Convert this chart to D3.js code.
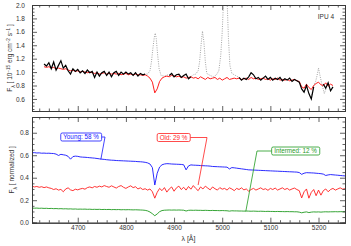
<!DOCTYPE html>
<html><head><meta charset="utf-8">
<script src="https://cdn.jsdelivr.net/npm/d3@7"></script>
<style>
body{margin:0;background:#fff}
svg{display:block}
text{font-family:"Liberation Sans",Arial,sans-serif}
</style>
</head><body>
<svg id="c" width="351" height="246"></svg>
<script>
// ---------------- DATA ----------------
const obsStart = 4630, obsStep = 5;   // top panel wavelength grid (Å)
const obsFlux = [
1.12,1.09,1.14,1.05,1.15,1.03,1.10,1.17,1.06,1.10,
1.02,0.97,1.05,1.01,1.04,0.99,1.02,0.98,1.03,0.99,
1.01,0.92,1.00,0.94,0.99,1.01,0.95,1.00,0.93,0.99,
1.01,0.95,1.00,0.97,1.00,0.97,0.99,0.95,0.99,0.94,
0.98,0.96,0.97,null,null,null,null,null,null,null,
null,null,0.95,0.98,0.93,0.96,0.97,0.92,0.95,0.97,
0.90,0.93,null,null,null,null,null,null,null,null,
null,null,null,null,null,null,null,null,null,null,
null,0.92,0.88,0.91,0.89,0.93,0.99,0.96,0.90,0.92,
0.88,0.91,0.94,0.89,0.92,0.88,0.91,0.89,0.92,0.87,
0.90,0.88,0.91,0.86,0.89,0.87,0.85,0.75,0.70,0.80,
0.68,0.60,0.78,null,null,null,0.82,0.76,0.84,0.72,
0.78];
const modelFlux = [
1.08,1.07,1.08,1.06,1.07,1.05,1.06,1.05,1.04,1.05,
1.03,1.02,1.03,1.01,1.02,1.00,1.01,1.00,0.99,1.00,
0.99,0.98,0.99,0.97,0.98,0.99,0.97,0.98,0.97,0.98,
0.97,0.98,0.96,0.97,0.98,0.96,0.97,0.96,0.97,0.96,
0.96,0.95,0.96,0.94,0.91,0.85,0.69,0.75,0.86,0.91,
0.93,0.94,0.93,0.95,0.94,0.93,0.94,0.92,0.93,0.91,
0.92,0.93,0.91,0.92,0.90,0.93,0.91,0.89,0.92,0.90,
0.91,0.92,0.89,0.91,0.88,0.90,0.92,0.89,0.90,0.91,
0.90,0.91,0.89,0.90,0.91,0.89,0.92,0.90,0.91,0.89,
0.90,0.91,0.89,0.90,0.88,0.90,0.89,0.91,0.88,0.89,
0.88,0.89,0.87,0.88,0.89,0.87,0.86,0.78,0.76,0.82,
0.77,0.74,0.80,0.83,0.85,0.81,0.80,0.84,0.79,0.82,
0.80];
// full observed spectrum (with emission lines) in the masked windows
const grayWave = [4838,4845,4850,4853,4856,4859,4861,4863,4866,4869,4873,4880,4888,null,
  4935,4940,4945,4950,4953,4956,4959,4962,4965,4968,4975,4982,4988,4993,4997,5000,5003,5007,5010,5013,5016,5020,5025,5030,5035,null,
  5186,5190,5194,5197,5200,5203,5207,5212,5216];
const grayFlux = [0.97,0.97,1.02,1.15,1.35,1.52,1.58,1.50,1.25,1.05,0.95,0.94,0.96,null,
  0.93,0.96,0.97,1.02,1.15,1.40,1.61,1.45,1.15,0.98,0.95,0.93,0.96,1.02,1.25,1.60,2.10,2.60,2.10,1.50,1.10,0.98,0.96,0.94,0.92,null,
  0.66,0.80,0.86,0.95,1.06,0.95,0.82,0.68,0.76];

const compStart = 4605, compStep = 5;  // bottom panel wavelength grid (Å)
const youngFlux = [
0.622,0.623,0.620,0.621,0.618,0.619,0.617,0.618,0.616,0.615,
0.610,0.598,0.608,0.604,0.600,0.590,0.565,0.588,0.592,0.590,
0.585,0.583,0.582,0.580,0.578,0.576,0.574,0.571,0.568,0.565,
0.563,0.560,0.558,0.556,0.555,0.553,0.552,0.551,0.550,0.549,
0.548,0.547,0.546,0.545,0.543,0.542,0.540,0.537,0.532,0.522,
0.490,0.335,0.440,0.495,0.515,0.522,0.525,0.524,0.522,0.521,
0.520,0.519,0.518,0.515,0.470,0.505,0.514,0.512,0.511,0.510,
0.508,0.507,0.506,0.505,0.503,0.500,0.499,0.498,0.497,0.496,
0.495,0.494,0.478,0.490,0.488,0.485,0.482,0.479,0.476,0.473,
0.470,0.469,0.468,0.467,0.466,0.465,0.464,0.463,0.462,0.461,
0.460,0.459,0.458,0.457,0.456,0.455,0.454,0.453,0.452,0.451,
0.450,0.446,0.430,0.440,0.445,0.444,0.443,0.442,0.440,0.438,
0.436,0.432,0.420,0.425,0.428,0.426,0.424,0.422,0.420,0.418,
0.416];
const oldFlux = [
0.325,0.318,0.322,0.315,0.320,0.312,0.318,0.310,0.305,0.295,
0.302,0.290,0.296,0.275,0.300,0.310,0.292,0.285,0.298,0.292,
0.300,0.305,0.298,0.312,0.318,0.310,0.322,0.315,0.325,0.318,
0.330,0.322,0.315,0.328,0.318,0.308,0.322,0.330,0.315,0.305,
0.318,0.328,0.312,0.320,0.300,0.310,0.295,0.302,0.290,0.300,
0.275,0.218,0.270,0.305,0.285,0.312,0.272,0.300,0.318,0.280,
0.310,0.325,0.295,0.315,0.290,0.322,0.298,0.330,0.305,0.285,
0.318,0.300,0.325,0.308,0.292,0.318,0.302,0.290,0.312,0.298,
0.305,0.290,0.310,0.300,0.285,0.305,0.295,0.310,0.292,0.300,
0.280,0.295,0.305,0.290,0.300,0.310,0.295,0.302,0.288,0.305,
0.295,0.308,0.290,0.300,0.310,0.295,0.305,0.290,0.300,0.308,
0.295,0.285,0.220,0.275,0.300,0.218,0.270,0.295,0.240,0.290,
0.245,0.285,0.300,0.275,0.295,0.305,0.290,0.300,0.310,0.298,
0.302];
const interFlux = [
0.130,0.129,0.130,0.128,0.129,0.127,0.128,0.126,0.127,0.125,
0.126,0.124,0.125,0.123,0.124,0.122,0.123,0.121,0.122,0.120,
0.121,0.120,0.121,0.119,0.120,0.118,0.119,0.118,0.119,0.117,
0.118,0.117,0.118,0.116,0.117,0.116,0.117,0.115,0.116,0.115,
0.116,0.115,0.114,0.115,0.114,0.113,0.112,0.110,0.105,0.095,
0.080,0.062,0.078,0.098,0.108,0.111,0.112,0.113,0.112,0.113,
0.112,0.113,0.112,0.111,0.104,0.110,0.111,0.110,0.111,0.110,
0.110,0.109,0.110,0.109,0.108,0.109,0.108,0.108,0.107,0.108,
0.107,0.106,0.103,0.106,0.105,0.105,0.104,0.104,0.103,0.104,
0.103,0.102,0.103,0.102,0.101,0.102,0.101,0.100,0.101,0.100,
0.100,0.099,0.100,0.099,0.099,0.098,0.099,0.098,0.098,0.097,
0.097,0.094,0.088,0.093,0.096,0.090,0.094,0.096,0.095,0.096,
0.094,0.096,0.097,0.096,0.097,0.097,0.098,0.097,0.098,0.098,
0.098];

const xTicks = [4700, 4800, 4900, 5000, 5100, 5200];
const topYTicks = [0.6, 0.8, 1.0, 1.2, 1.4, 1.6, 1.8, 2.0];
const botYTicks = [0.0, 0.2, 0.4, 0.6, 0.8];
const compNames = ["Young: 58 %", "Old: 29 %", "Intermed: 12 %"];
const compColors = ["#1414ff", "#ff1e1e", "#1f9a1f"];
// leader-line anchor on each component curve (wavelength, value)
const compAnchorWave = [4748, 4950, 5049];
const compAnchorVal = [0.563, 0.335, 0.100];
const panelLabel = "IPU 4";

// ---------------- LAYOUT ----------------
const svg = d3.select("#c");
const L = 32, R = 345;
const topT = 5, topB = 111, botT = 117, botB = 222.7;
const axisCol = "#3a3a3a";

const x = d3.scaleLinear().domain([4605, 5255]).range([L, R]);
const yTop = d3.scaleLinear().domain([0.42, 2.0]).range([topB, topT]);
const yBot = d3.scaleLinear().domain([0.0, 0.94]).range([botB, botT]);

const defs = svg.append("defs");
defs.append("clipPath").attr("id","clipTop").append("rect")
  .attr("x",L).attr("y",topT).attr("width",R-L).attr("height",topB-topT);
defs.append("clipPath").attr("id","clipBot").append("rect")
  .attr("x",L).attr("y",botT).attr("width",R-L).attr("height",botB-botT);

const obsWave = obsFlux.map((_,i)=>obsStart+i*obsStep);
const compWave = youngFlux.map((_,i)=>compStart+i*compStep);

function frame(yS, t, b, yTicks, minorStep, showX, labelPad){
  const g = svg.append("g");
  const minorX = d3.range(4620, 5256, 20).filter(v=>v%100!==0);
  const [d0,d1] = yS.domain();
  const minorY = d3.range(Math.ceil(d0/minorStep)*minorStep, d1+1e-9, minorStep)
     .filter(v=>Math.abs(Math.round(v/0.2)*0.2-v)>1e-6);
  // bottom
  const bx = g.append("g").attr("transform",`translate(0,${b})`)
    .call(d3.axisBottom(x).tickValues(xTicks).tickSize(-5).tickPadding(3)
      .tickFormat(showX ? d3.format("d") : ""));
  g.append("g").attr("transform",`translate(0,${b})`)
    .call(d3.axisBottom(x).tickValues(minorX).tickSize(-2.5).tickFormat(""));
  // top
  g.append("g").attr("transform",`translate(0,${t})`)
    .call(d3.axisTop(x).tickValues(xTicks).tickSize(-5).tickFormat(""));
  g.append("g").attr("transform",`translate(0,${t})`)
    .call(d3.axisTop(x).tickValues(minorX).tickSize(-2.5).tickFormat(""));
  // left
  g.append("g").attr("transform",`translate(${L},0)`)
    .call(d3.axisLeft(yS).tickValues(yTicks).tickSize(-5).tickPadding(labelPad)
      .tickFormat(d3.format(".1f")));
  g.append("g").attr("transform",`translate(${L},0)`)
    .call(d3.axisLeft(yS).tickValues(minorY).tickSize(-2.5).tickFormat(""));
  // right
  g.append("g").attr("transform",`translate(${R},0)`)
    .call(d3.axisRight(yS).tickValues(yTicks).tickSize(-5).tickFormat(""));
  g.append("g").attr("transform",`translate(${R},0)`)
    .call(d3.axisRight(yS).tickValues(minorY).tickSize(-2.5).tickFormat(""));
  g.selectAll(".domain").attr("stroke",axisCol).attr("stroke-width",1);
  g.selectAll(".tick line").attr("stroke",axisCol).attr("stroke-width",0.8);
  g.selectAll(".tick text").attr("fill","#333").style("font-size","6.5px")
    .style("font-family",'"Liberation Sans",Arial,sans-serif');
  return g;
}

// ---------- TOP PANEL ----------
const topG = svg.append("g").attr("clip-path","url(#clipTop)");
const lineTop = d3.line().defined(d=>d[1]!=null).x(d=>x(d[0])).y(d=>yTop(d[1]));
topG.append("path")
  .attr("d", lineTop(grayWave.map((w,i)=>[w, w==null?null:grayFlux[i]]).map(d=>d[0]==null?[0,null]:d)))
  .attr("fill","none").attr("stroke","#9a9a9a").attr("stroke-width",0.9)
  .attr("stroke-dasharray","1,1.3");
topG.append("path")
  .attr("d", lineTop(obsWave.map((w,i)=>[w, modelFlux[i]])))
  .attr("fill","none").attr("stroke","#ff1e1e").attr("stroke-width",1);
topG.append("path")
  .attr("d", lineTop(obsWave.map((w,i)=>[w, obsFlux[i]])))
  .attr("fill","none").attr("stroke","#000").attr("stroke-width",1.2);
frame(yTop, topT, topB, topYTicks, 0.05, false, 7);
svg.append("text").attr("x",334).attr("y",18.5).attr("text-anchor","end")
  .attr("fill","#333").style("font-size","6.5px").text(panelLabel);

// ---------- BOTTOM PANEL ----------
const botG = svg.append("g").attr("clip-path","url(#clipBot)");
const lineBot = d3.line().x(d=>x(d[0])).y(d=>yBot(d[1]));
[interFlux, oldFlux, youngFlux].forEach((arr,k)=>{
  const ci = [2,1,0][k];
  botG.append("path")
    .attr("d", lineBot(compWave.map((w,i)=>[w, arr[i]])))
    .attr("fill","none").attr("stroke",compColors[ci]).attr("stroke-width",0.9);
});
frame(yBot, botT, botB, botYTicks, 0.05, true, 3);

// labels with boxes + leader lines
const boxes = [
  {cx: 81, cy: 137, elbowX: 105, side: "right"},
  {cx: 173.5, cy: 137.5, elbowX: 207, side: "right"},
  {cx: 295.5, cy: 151, elbowX: 257, side: "left"}
];
boxes.forEach((b,i)=>{
  const g = svg.append("g");
  const t = g.append("text").attr("x",b.cx).attr("y",b.cy+2.2).attr("text-anchor","middle")
    .attr("fill",compColors[i]).style("font-size","6.3px").text(compNames[i]);
  const bb = t.node().getBBox();
  const bx0 = bb.x-2.5, bx1 = bb.x+bb.width+2.5;
  const ax = x(compAnchorWave[i]), ay = yBot(compAnchorVal[i]);
  const startX = b.side==="right" ? bx1 : bx0;
  g.insert("polyline","text")
    .attr("points",`${startX},${b.cy} ${b.elbowX},${b.cy} ${ax},${ay}`)
    .attr("fill","none").attr("stroke",compColors[i]).attr("stroke-width",0.8);
  g.insert("rect","text").attr("x",bx0).attr("y",b.cy-4).attr("width",bx1-bx0).attr("height",8)
    .attr("rx",1.5).attr("fill","#fff").attr("stroke",compColors[i]).attr("stroke-width",0.8);
});

// axis titles
svg.append("text").attr("text-anchor","middle")
  .attr("transform",`translate(12,${(topT+topB)/2}) rotate(-90)`)
  .attr("fill","#333").style("font-size","6.5px")
  .call(t=>{
    t.append("tspan").text("F");
    t.append("tspan").attr("baseline-shift","sub").style("font-size","5px").text("λ");
    t.append("tspan").text(" [ 10");
    t.append("tspan").attr("baseline-shift","super").style("font-size","4.5px").text("−15");
    t.append("tspan").text(" erg cm");
    t.append("tspan").attr("baseline-shift","super").style("font-size","4.5px").text("−2");
    t.append("tspan").text(" s");
    t.append("tspan").attr("baseline-shift","super").style("font-size","4.5px").text("−1");
    t.append("tspan").text(" ]");
  });
svg.append("text").attr("text-anchor","middle")
  .attr("transform",`translate(14,${(botT+botB)/2}) rotate(-90)`)
  .attr("fill","#333").style("font-size","6.5px")
  .call(t=>{
    t.append("tspan").text("F");
    t.append("tspan").attr("baseline-shift","sub").style("font-size","5px").text("λ");
    t.append("tspan").text(" [ normalized ]");
  });
svg.append("text").attr("x",(L+R)/2+0).attr("y",240.5).attr("text-anchor","middle")
  .attr("fill","#333").style("font-size","7px").text("λ [Å]");
</script>
</body></html>
